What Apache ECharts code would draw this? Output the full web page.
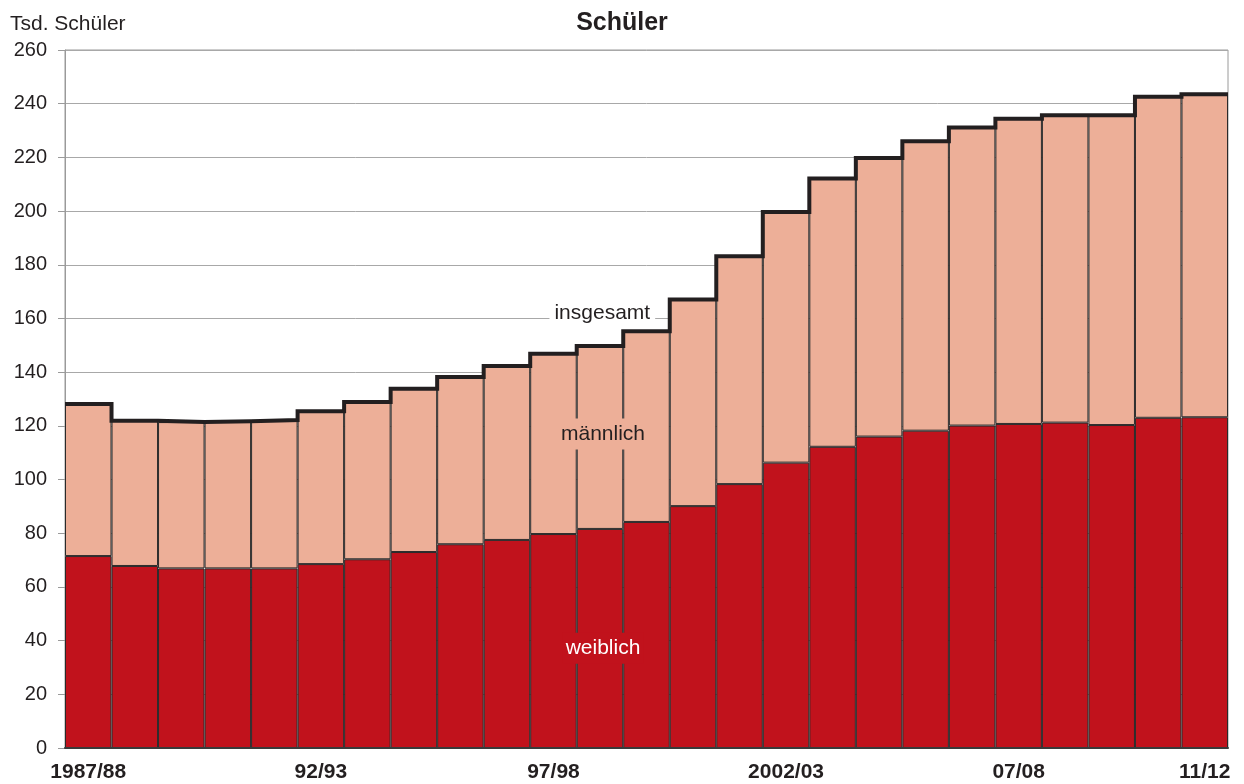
<!DOCTYPE html>
<html>
<head>
<meta charset="utf-8">
<script src="https://cdn.jsdelivr.net/npm/echarts@6/dist/echarts.min.js"></script>
<style>
html,body{margin:0;padding:0;background:#fff;}
#chart{width:1244px;height:784px;}
</style>
</head>
<body>
<div id="chart"></div>
<script>
const categories = ["1987/88","88/89","89/90","90/91","91/92","92/93","93/94","94/95","95/96","96/97","97/98","98/99","99/2000","2000/01","01/02","2002/03","03/04","04/05","05/06","06/07","07/08","08/09","09/10","10/11","11/12"];
const weiblich = [71.5,67.8,66.9,66.9,66.9,68.5,70.3,73.0,75.9,77.5,79.7,81.6,84.2,90.1,98.3,106.3,112.2,116.0,118.2,120.1,120.7,121.2,120.3,123.0,123.2];
const maennlich = [56.6,54.1,54.5,54.8,55.3,56.9,58.6,60.8,62.3,64.8,67.2,68.1,71.0,77.0,84.9,93.4,99.9,103.8,107.8,111.0,113.7,114.5,115.4,119.6,120.3];
const insgesamt = [128.1,121.9,121.4,121.7,122.2,125.4,128.9,133.8,138.2,142.3,146.9,149.7,155.2,167.1,183.2,199.7,212.1,219.8,226.0,231.1,234.4,235.7,235.7,242.6,243.5];
const shownLabels = [0,5,10,15,20,24];
const yTicks = {min:0, max:260, interval:20};

const FONT = "'Liberation Sans', Arial, Helvetica, sans-serif";
const TXT = '#231F20';
const RED = '#C1121C';
const PINK = '#EDAF98';

const stepData = insgesamt.map((v,i)=>[i,v]);
stepData.push([insgesamt.length, insgesamt[insgesamt.length-1]]);

const chart = echarts.init(document.getElementById('chart'), null, {renderer:'canvas'});
chart.setOption({
  animation:false,
  backgroundColor:'#fff',
  textStyle:{fontFamily:FONT,color:TXT},
  title:{text:'Schüler',left:'center',top:6,textStyle:{fontFamily:FONT,fontSize:25,fontWeight:'bold',color:TXT}},
  graphic:[{type:'text',left:10,top:14,style:{text:'Tsd. Schüler',fontFamily:FONT,fontSize:21,fill:TXT}}],
  grid:{left:65,right:16,top:50,bottom:36,show:true,borderColor:'#9a9a9a',borderWidth:1,backgroundColor:'transparent'},
  xAxis:[{
    type:'category',data:categories,boundaryGap:true,
    axisLine:{show:true,lineStyle:{color:'#3a3a3a',width:2}},
    axisTick:{show:false},
    axisLabel:{interval:(idx)=>shownLabels.includes(idx),fontFamily:FONT,fontSize:21,fontWeight:'bold',color:TXT,margin:14},
    z:10
  },{
    type:'value',min:0,max:categories.length,show:false
  }],
  yAxis:{
    type:'value',min:yTicks.min,max:yTicks.max,interval:yTicks.interval,
    axisLine:{show:true,lineStyle:{color:'#9a9a9a',width:1}},
    axisTick:{show:true,length:7,lineStyle:{color:'#9a9a9a'}},
    axisLabel:{fontFamily:FONT,fontSize:20,color:TXT,margin:18},
    splitLine:{show:true,lineStyle:{color:'#a8a8a8',width:1}}
  },
  series:[{
    name:'weiblich',type:'bar',stack:'s',data:weiblich,barCategoryGap:'0%',
    itemStyle:{color:RED,borderColor:'#2a2a2a',borderWidth:1},
    markPoint:{symbol:'rect',symbolSize:0,data:[{coord:[categories[11],37.2]}],
      label:{show:true,formatter:'weiblich',position:'inside',offset:[3,0],fontFamily:FONT,fontSize:21,color:'#fff',backgroundColor:RED,padding:[5,3]}}
  },{
    name:'männlich',type:'bar',stack:'s',data:maennlich,barCategoryGap:'0%',
    itemStyle:{color:PINK,borderColor:'#2a2a2a',borderWidth:1},
    markPoint:{symbol:'rect',symbolSize:0,data:[{coord:[categories[11],117]}],
      label:{show:true,formatter:'männlich',position:'inside',offset:[3,0],fontFamily:FONT,fontSize:21,color:TXT,backgroundColor:PINK,padding:[5,2]}}
  },{
    name:'insgesamt',type:'line',xAxisIndex:1,data:stepData,step:'end',symbol:'none',
    lineStyle:{color:'#231F20',width:4,join:'miter',cap:'butt'},z:4,
    markPoint:{symbol:'rect',symbolSize:0,data:[{coord:[11.55,162]}],
      label:{show:true,formatter:'insgesamt',position:'inside',fontFamily:FONT,fontSize:21,color:TXT,backgroundColor:'#fff',padding:[2,5]}}
  }]
});
</script>
</body>
</html>
